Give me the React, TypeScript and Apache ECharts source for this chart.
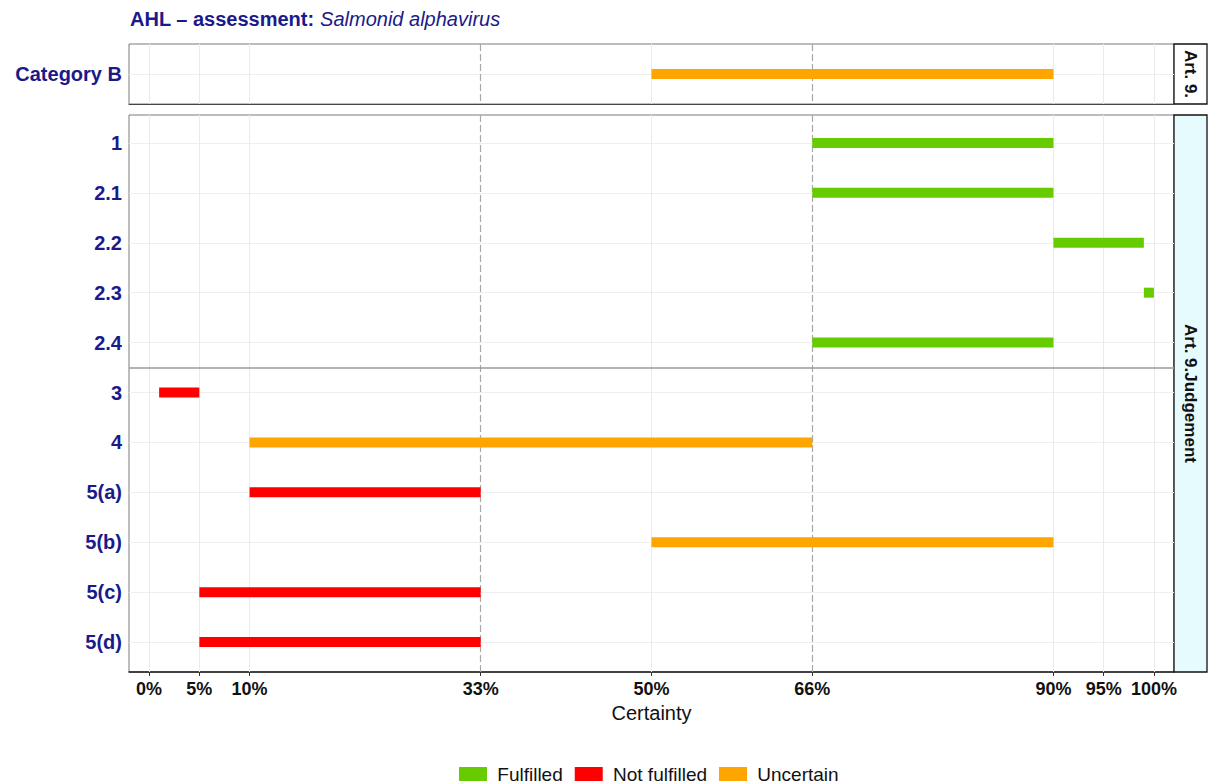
import React, { useEffect, useRef } from "react";
import * as echarts from "echarts";

// ---------- data ----------
const topCategories = ["Category B"];
const topStarts = [50];
const topEnds = [90];
const topStatus = ["Uncertain"];

const bottomCategories = ["1", "2.1", "2.2", "2.3", "2.4", "3", "4", "5(a)", "5(b)", "5(c)", "5(d)"];
const bottomStarts = [66, 66, 90, 99, 66, 1, 10, 10, 50, 5, 5];
const bottomEnds = [90, 90, 99, 100, 90, 5, 66, 33, 90, 33, 33];
const bottomStatus = [
  "Fulfilled", "Fulfilled", "Fulfilled", "Fulfilled", "Fulfilled",
  "Not fulfilled", "Uncertain", "Not fulfilled", "Uncertain", "Not fulfilled", "Not fulfilled",
];
const bottomSeparator = 4.5; // between "2.4" and "3"

const xTicks = [0, 5, 10, 33, 50, 66, 90, 95, 100];
const dashedTicks = [33, 66];
const statuses = ["Fulfilled", "Not fulfilled", "Uncertain"];
const statusColors = ["#66CC00", "#FF0000", "#FFA500"];

const stripLabels = ["Art. 9.", "Art. 9.Judgement"];

// ---------- styling ----------
const FONT = "'Liberation Sans', Arial, Helvetica, sans-serif";
const NAVY = "#1a1a8a";
const X_MIN = -2;
const X_MAX = 102;
const PANEL_LEFT = 129;
const PANEL_RIGHT = 1174;
const TOP_PANEL = { top: 44, height: 60 };
const BOTTOM_PANEL = { top: 115, height: 557 };
const BAR_H = 10;

export default function App() {
  const ref = useRef<HTMLDivElement>(null);

  useEffect(() => {
    if (!ref.current) return;
    const chart = echarts.init(ref.current, null, { renderer: "svg" });

    const panels = [
      { cats: topCategories, starts: topStarts, ends: topEnds, status: topStatus, sep: null as number | null, min: -0.6, max: 0.6 },
      { cats: bottomCategories, starts: bottomStarts, ends: bottomEnds, status: bottomStatus, sep: bottomSeparator as number | null, min: -0.56, max: bottomCategories.length - 1 + 0.6 },
    ];
    const gridBoxes = [TOP_PANEL, BOTTOM_PANEL];

    const grid = gridBoxes.map((g) => ({
      left: PANEL_LEFT,
      width: PANEL_RIGHT - PANEL_LEFT,
      top: g.top,
      height: g.height,
      show: true,
      borderColor: "#7a7a7a",
      borderWidth: 1,
      backgroundColor: "#ffffff",
    }));

    const xAxis = panels.map((_, i) => ({
      type: "value",
      gridIndex: i,
      min: X_MIN,
      max: X_MAX,
      splitLine: { show: false },
      axisLine: { show: true, onZero: false, lineStyle: { color: i === 1 ? "#1a1a1a" : "#444", width: i === 1 ? 1.5 : 1.2 } },
      axisTick: i === 1
        ? { show: true, length: 4, customValues: xTicks, lineStyle: { color: "#333" } }
        : { show: false },
      axisLabel: i === 1
        ? {
            show: true,
            customValues: xTicks,
            formatter: (v: number) => `${v}%`,
            margin: 8,
            color: "#111",
            fontWeight: "bold",
            fontSize: 18,
            fontFamily: FONT,
          }
        : { show: false },
      name: i === 1 ? "Certainty" : "",
      nameLocation: "middle",
      nameGap: 30,
      nameTextStyle: { fontSize: 20, color: "#111", fontFamily: FONT, verticalAlign: "top" },
    }));

    const yAxis = panels.map((p, i) => ({
      type: "value",
      gridIndex: i,
      inverse: true,
      min: p.min,
      max: p.max,
      splitLine: { show: false },
      axisLine: { show: false },
      axisTick: { show: true, length: 4, customValues: p.cats.map((_, k) => k), lineStyle: { color: "#333" } },
      axisLabel: {
        show: true,
        customValues: p.cats.map((_, k) => k),
        formatter: (v: number) => p.cats[Math.round(v)] ?? "",
        margin: 7,
        color: NAVY,
        fontWeight: "bold",
        fontSize: 20,
        fontFamily: FONT,
      },
    }));

    const series: any[] = [];

    // grid lines per panel
    panels.forEach((p, i) => {
      const lines: any[] = [];
      p.cats.forEach((_, k) => {
        lines.push({ yAxis: k, lineStyle: { color: "#efefef", width: 1, type: "solid" } });
      });
      xTicks.forEach((t) => {
        const dashed = dashedTicks.includes(t);
        lines.push({
          xAxis: t,
          lineStyle: dashed
            ? { color: "#a8a8a8", width: 1.2, type: [7, 3] }
            : { color: "#ebebeb", width: 1, type: "solid" },
        });
      });
      if (p.sep !== null) {
        lines.push({ yAxis: p.sep, lineStyle: { color: "#9a9a9a", width: 1.5, type: "solid" } });
      }
      series.push({
        type: "line",
        xAxisIndex: i,
        yAxisIndex: i,
        data: [],
        silent: true,
        z: 1,
        markLine: {
          silent: true,
          symbol: ["none", "none"],
          label: { show: false },
          animation: false,
          data: lines,
        },
      });
    });

    // bars
    panels.forEach((p, i) => {
      statuses.forEach((st, si) => {
        const data: number[][] = [];
        p.cats.forEach((_, k) => {
          if (p.status[k] === st) data.push([p.starts[k], p.ends[k], k]);
        });
        if (!data.length) return;
        const color = statusColors[si];
        series.push({
          type: "custom",
          name: st,
          xAxisIndex: i,
          yAxisIndex: i,
          z: 5,
          itemStyle: { color },
          encode: { x: [0, 1], y: 2 },
          data,
          renderItem: (_params: any, api: any) => {
            const s = api.coord([api.value(0), api.value(2)]);
            const e = api.coord([api.value(1), api.value(2)]);
            return {
              type: "rect",
              shape: { x: s[0], y: s[1] - BAR_H / 2, width: e[0] - s[0], height: BAR_H },
              style: { fill: color },
            };
          },
        });
      });
    });

    const stripX = PANEL_RIGHT;
    const stripW = 33;
    const graphic: any[] = [
      {
        type: "rect",
        shape: { x: stripX, y: TOP_PANEL.top, width: stripW, height: TOP_PANEL.height },
        style: { fill: "#ffffff", stroke: "#111", lineWidth: 1.3 },
      },
      {
        type: "text",
        x: stripX + stripW / 2,
        y: TOP_PANEL.top + TOP_PANEL.height / 2,
        rotation: -Math.PI / 2,
        style: { text: stripLabels[0], align: "center", verticalAlign: "middle", fontSize: 17, fontWeight: "bold", fontFamily: FONT, fill: "#111" },
      },
      {
        type: "rect",
        shape: { x: stripX, y: BOTTOM_PANEL.top, width: stripW, height: BOTTOM_PANEL.height },
        style: { fill: "#E6FBFD", stroke: "#111", lineWidth: 1.3 },
      },
      {
        type: "text",
        x: stripX + stripW / 2,
        y: BOTTOM_PANEL.top + BOTTOM_PANEL.height / 2,
        rotation: -Math.PI / 2,
        style: { text: stripLabels[1], align: "center", verticalAlign: "middle", fontSize: 17, fontWeight: "bold", fontFamily: FONT, fill: "#111" },
      },
    ];

    chart.setOption({
      animation: false,
      backgroundColor: "#ffffff",
      title: {
        left: 125,
        top: 4,
        text: "{b|AHL – assessment:} {i|Salmonid alphavirus}",
        textStyle: {
          fontSize: 20,
          fontFamily: FONT,
          color: NAVY,
          rich: {
            b: { fontWeight: "bold", fontSize: 20, fontFamily: FONT, color: NAVY },
            i: { fontStyle: "italic", fontWeight: "normal", fontSize: 20, fontFamily: FONT, color: NAVY },
          },
        },
      },
      legend: {
        data: statuses,
        left: 454,
        top: 759,
        icon: "rect",
        itemWidth: 28,
        itemHeight: 14,
        itemGap: 12,
        selectedMode: false,
        formatter: (name: string) => " " + name,
        textStyle: { fontSize: 19, lineHeight: 20, color: "#111", fontFamily: FONT },
      },
      grid,
      xAxis,
      yAxis,
      series,
      graphic,
    });

    return () => chart.dispose();
  }, []);

  return (
    <div
      ref={ref}
      style={{ position: "fixed", left: 0, top: 0, width: 1210, height: 784, background: "#fff" }}
    />
  );
}
